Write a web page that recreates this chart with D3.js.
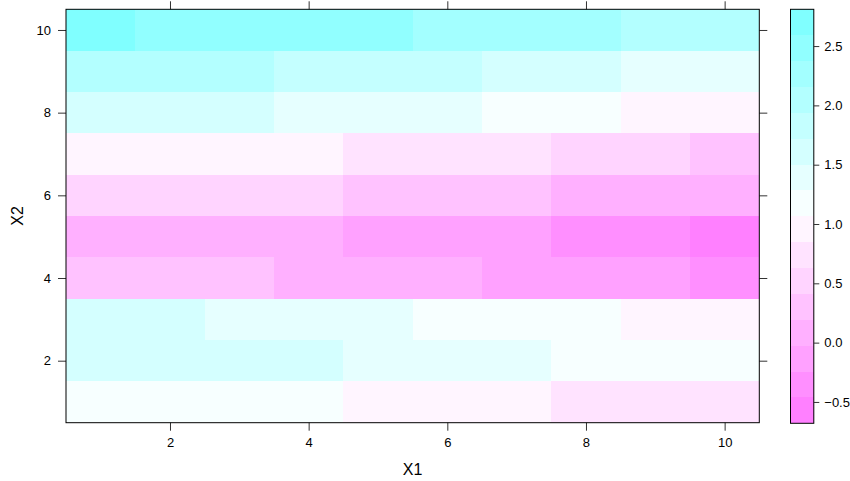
<!DOCTYPE html>
<html>
<head>
<meta charset="utf-8">
<script src="https://cdn.jsdelivr.net/npm/d3@7"></script>
<style>
  body { margin: 0; background: #fff; }
  svg { display: block; font-family: "Liberation Sans", Arial, sans-serif; }
</style>
</head>
<body>
<svg id="chart" width="850" height="481"></svg>
<script>
// grid coordinates
const x1Values = [1, 2, 3, 4, 5, 6, 7, 8, 9, 10];
const x2Values = [1, 2, 3, 4, 5, 6, 7, 8, 9, 10];

// z values, one row per X2 (bottom row X2 = 1 first), columns X1 = 1..10
const zRows = [
  [1.17, 1.17, 1.17, 1.17, 0.95, 0.95, 0.95, 0.73, 0.73, 0.73],
  [1.61, 1.61, 1.61, 1.61, 1.39, 1.39, 1.39, 1.17, 1.17, 1.17],
  [1.61, 1.61, 1.39, 1.39, 1.39, 1.17, 1.17, 1.17, 0.95, 0.95],
  [0.30, 0.30, 0.30, 0.08, 0.08, 0.08, -0.14, -0.14, -0.14, -0.35],
  [0.08, 0.08, 0.08, 0.08, -0.14, -0.14, -0.14, -0.35, -0.35, -0.68],
  [0.52, 0.52, 0.52, 0.52, 0.30, 0.30, 0.30, 0.08, 0.08, 0.08],
  [0.95, 0.95, 0.95, 0.95, 0.73, 0.73, 0.73, 0.52, 0.52, 0.30],
  [1.61, 1.61, 1.61, 1.39, 1.39, 1.39, 1.17, 1.17, 0.95, 0.95],
  [2.04, 2.04, 2.04, 1.82, 1.82, 1.82, 1.61, 1.61, 1.39, 1.39],
  [2.81, 2.48, 2.48, 2.48, 2.48, 2.26, 2.26, 2.26, 2.04, 2.04]
];

const axisTicks = [2, 4, 6, 8, 10];
const keyTicks = [-0.5, 0.0, 0.5, 1.0, 1.5, 2.0, 2.5];
const cuts = 16;

const svg = d3.select('#chart');

const pLeft = 66, pRight = 759.3, pTop = 9.3, pBottom = 422.7;

const x = d3.scaleLinear().domain([0.5, 10.5]).range([pLeft, pRight]);
const y = d3.scaleLinear().domain([0.5, 10.5]).range([pBottom, pTop]);

// colour levels, lattice style: magenta -> white -> cyan
const cells = [];
zRows.forEach((row, r) => row.forEach((z, c) => cells.push({ x1: x1Values[c], x2: x2Values[r], z })));
const zMin = d3.min(cells, d => d.z), zMax = d3.max(cells, d => d.z);
const step = (zMax - zMin) / cuts;
const at = d3.range(cuts + 1).map(k => zMin + k * step);

function bandColor(i) {
  const j = Math.floor(i * 99 / (cuts - 1));
  if (j < 50) {
    const s = 0.5 - j * 0.01;
    return d3.rgb(255, Math.round(255 * (1 - s)), 255);
  }
  const s = 0.01 + (j - 50) * 0.01;
  return d3.rgb(Math.round(255 * (1 - s)), 255, 255);
}
const bandOf = z => Math.max(0, Math.min(cuts - 1, Math.floor((z - zMin) / step)));

// cells
svg.append('g')
  .selectAll('rect')
  .data(cells)
  .join('rect')
  .attr('x', d => x(d.x1 - 0.5))
  .attr('y', d => y(d.x2 + 0.5))
  .attr('width', d => x(d.x1 + 0.5) - x(d.x1 - 0.5))
  .attr('height', d => y(d.x2 - 0.5) - y(d.x2 + 0.5))
  .attr('fill', d => bandColor(bandOf(d.z)))
  .attr('shape-rendering', 'crispEdges');

// axes
const tickLen = 8;
const gb = svg.append('g').attr('transform', `translate(0,${pBottom})`)
  .call(d3.axisBottom(x).tickValues(axisTicks).tickSize(tickLen).tickPadding(7));
const gl = svg.append('g').attr('transform', `translate(${pLeft},0)`)
  .call(d3.axisLeft(y).tickValues(axisTicks).tickSize(tickLen).tickPadding(7));
const gt = svg.append('g').attr('transform', `translate(0,${pTop})`)
  .call(d3.axisTop(x).tickValues(axisTicks).tickSize(tickLen).tickFormat(''));
const gr = svg.append('g').attr('transform', `translate(${pRight},0)`)
  .call(d3.axisRight(y).tickValues(axisTicks).tickSize(tickLen).tickFormat(''));
[gb, gl, gt, gr].forEach(g => {
  g.select('.domain').remove();
  g.selectAll('line').attr('stroke', '#333');
  g.selectAll('text').attr('font-size', 13).attr('font-family', 'Liberation Sans, Arial, sans-serif').attr('fill', '#000');
});

svg.append('rect')
  .attr('x', pLeft).attr('y', pTop)
  .attr('width', pRight - pLeft).attr('height', pBottom - pTop)
  .attr('fill', 'none').attr('stroke', '#000').attr('stroke-width', 1);

// axis titles
svg.append('text')
  .attr('x', (pLeft + pRight) / 2).attr('y', 475)
  .attr('text-anchor', 'middle').attr('font-size', 16)
  .text('X1');
svg.append('text')
  .attr('transform', `translate(22.5,${(pTop + pBottom) / 2}) rotate(-90)`)
  .attr('text-anchor', 'middle').attr('font-size', 16)
  .text('X2');

// colour key
const kx0 = 790.5, kx1 = 813.8, ky0 = 9.3, ky1 = 423.3;
const yk = d3.scaleLinear().domain([zMin, zMax]).range([ky1, ky0]);

svg.append('g')
  .selectAll('rect')
  .data(d3.range(cuts))
  .join('rect')
  .attr('x', kx0).attr('width', kx1 - kx0)
  .attr('y', i => yk(at[i + 1]))
  .attr('height', i => yk(at[i]) - yk(at[i + 1]))
  .attr('fill', i => bandColor(i))
  .attr('shape-rendering', 'crispEdges');

svg.append('rect')
  .attr('x', kx0).attr('y', ky0)
  .attr('width', kx1 - kx0).attr('height', ky1 - ky0)
  .attr('fill', 'none').attr('stroke', '#000');

const gk = svg.append('g').attr('transform', `translate(${kx1},0)`)
  .call(d3.axisRight(yk).tickValues(keyTicks).tickSize(5.5).tickPadding(5).tickFormat(d3.format('.1f')));
gk.select('.domain').remove();
gk.selectAll('line').attr('stroke', '#333');
gk.selectAll('text').attr('font-size', 13).attr('font-family', 'Liberation Sans, Arial, sans-serif').attr('fill', '#000');
</script>
</body>
</html>
